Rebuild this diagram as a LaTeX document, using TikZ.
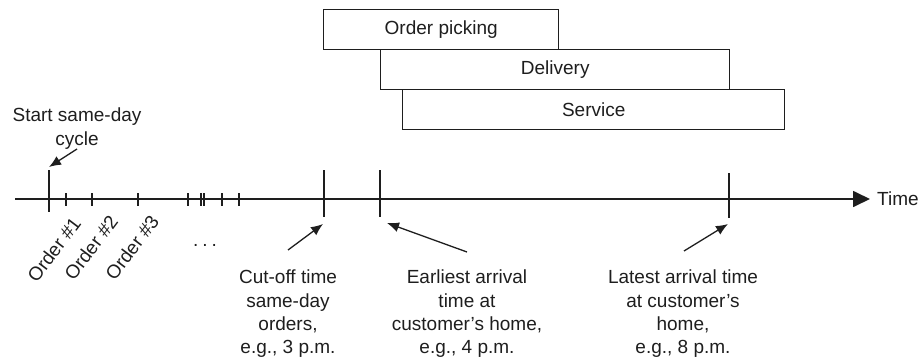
\documentclass[tikz,border=0pt]{standalone}
\usepackage{fontspec}
\setmainfont{Liberation Sans}
\usetikzlibrary{arrows.meta}
\definecolor{ink}{HTML}{1E1E1E}
\begin{document}
\begin{tikzpicture}[x=1pt,y=-1pt,
  every node/.style={text=ink, font=\fontsize{19}{23.3}\selectfont},
  line/.style={draw=ink, line width=1.4pt},
  box/.style={line, fill=white, minimum height=40pt, inner sep=0pt, anchor=north west},
  lbl/.style={align=center, inner sep=0pt, anchor=north},
  ptr/.style={line, line width=1.3pt, -{Latex[length=12pt,width=10pt]}},
  ordl/.style={rotate=53, anchor=north east, inner sep=0pt}]
\useasboundingbox (0,0) rectangle (920,361);
% axis
\coordinate (a0) at (15,199);
\coordinate (a1) at (870,199);
\draw[line, line width=1.7pt, -{Triangle[length=17pt,width=16pt]}] (a0) -- (a1);
\node[anchor=west, inner sep=0pt] (time) at (877,199) {Time};
% major ticks
\coordinate (sT) at (49,170); \coordinate (sB) at (49,212);
\coordinate (cT) at (324,170); \coordinate (cB) at (324,217);
\coordinate (eT) at (380,170); \coordinate (eB) at (380,217);
\coordinate (lT) at (729,173); \coordinate (lB) at (729,218);
\draw[line] (sT) -- (sB);
\draw[line] (cT) -- (cB);
\draw[line] (eT) -- (eB);
\draw[line] (lT) -- (lB);
% minor ticks
\foreach \x in {66,92,138,188,201,204,222,239}
  \draw[line, line width=1.2pt] (\x,193) -- (\x,206);
% boxes
\node[box, minimum width=235pt] (pick) at (323,9) {Order picking};
\node[box, minimum width=349pt] (deliv) at (380,49) {Delivery};
\node[box, minimum width=382pt] (serv) at (402,89) {Service};
% order labels
\node[ordl] (o1) at (71,215) {Order \#1};
\node[ordl] (o2) at (108,213) {Order \#2};
\node[ordl] (o3) at (149,213) {Order \#3};
\node[inner sep=0pt] (dots) at (205,245) {.\hspace{4pt}.\hspace{4pt}.};
% text labels
\node[lbl] (start) at (77,108) {Start same-day\\cycle};
\node[lbl] (cut) at (288,270) {Cut-off time\\same-day\\orders,\\e.g., 3 p.m.};
\node[lbl] (early) at (467,270) {Earliest arrival\\time at\\customer’s home,\\e.g., 4 p.m.};
\node[lbl] (late) at (683,270) {Latest arrival time\\at customer’s\\home,\\e.g., 8 p.m.};
% pointers
\coordinate (sp) at (77,149);
\coordinate (cp) at (288,250);
\coordinate (ep) at (467,252);
\coordinate (lp) at (684,251);
\draw[ptr] (sp) -- (49,167);
\draw[ptr] (cp) -- (323,224);
\draw[ptr] (ep) -- (387,223);
\draw[ptr] (lp) -- (728,224);
\end{tikzpicture}
\end{document}
